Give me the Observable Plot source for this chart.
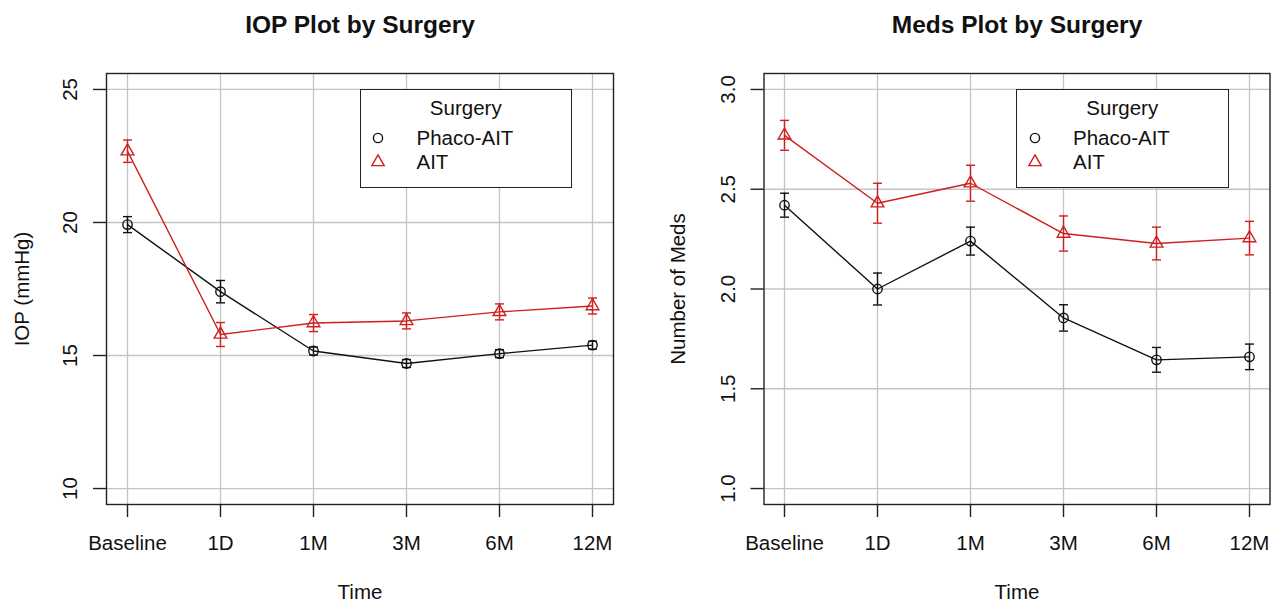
<!DOCTYPE html>
<html><head><meta charset="utf-8">
<script src="https://cdn.jsdelivr.net/npm/d3@7"></script>
<script src="https://cdn.jsdelivr.net/npm/@observablehq/plot@0.6"></script>
<style>
html,body{margin:0;padding:0;background:#fff;overflow:hidden;width:1272px;height:602px}
#root{position:relative;width:1272px;height:602px;font-family:"Liberation Sans",Arial,sans-serif;color:#111}
.panel{position:absolute;top:0}
.legend{position:absolute;border:1.3px solid #222;box-sizing:border-box;background:#fff;font-size:20.5px;line-height:24px}
.legend .lt{position:absolute;left:0;right:0;text-align:center}
.legend .li{position:absolute;white-space:nowrap}
.legend svg{position:absolute;overflow:visible}
</style>
</head><body><div id="root"></div>
<script>
// ---- data ----
const times = ["Baseline", "1D", "1M", "3M", "6M", "12M"];
const seriesNames = ["Phaco-AIT", "AIT"];

const iopPhaco   = [19.92, 17.4, 15.17, 14.7, 15.07, 15.39];
const iopPhacoSE = [0.3, 0.42, 0.15, 0.15, 0.15, 0.15];
const iopAit     = [22.68, 15.79, 16.22, 16.3, 16.64, 16.86];
const iopAitSE   = [0.42, 0.45, 0.32, 0.3, 0.3, 0.3];

const medsPhaco   = [2.42, 2.00, 2.24, 1.855, 1.645, 1.66];
const medsPhacoSE = [0.06, 0.08, 0.07, 0.066, 0.062, 0.064];
const medsAit     = [2.77, 2.43, 2.53, 2.278, 2.228, 2.255];
const medsAitSE   = [0.075, 0.1, 0.09, 0.088, 0.082, 0.084];

const iopTicks = [10, 15, 20, 25];
const medsTicks = [1.0, 1.5, 2.0, 2.5, 3.0];

// ---- styles ----
const colors = ["#111111", "#cf1f1f"];
const symbols = ["circle", "triangle"];
const font = "Liberation Sans, Arial, sans-serif";
const fs = 20.5;

const capSymbol = {draw(ctx, size) { const w = Math.sqrt(size / Math.PI); ctx.moveTo(-w, 0); ctx.lineTo(w, 0); }};

function rows(v, se) { return times.map((t, i) => ({time: t, mean: v[i], lo: v[i] - se[i], hi: v[i] + se[i]})); }

function panel({series, yTicks, yDomain, fmt, title, ylabel, marginLeft, marginRight, ylabDx}) {
  const gridStyle = {stroke: "#c4c4c4", strokeOpacity: 1, strokeWidth: 1.3};
  const marks = [
    Plot.gridX({...gridStyle}),
    Plot.gridY(yTicks, {...gridStyle}),
    Plot.frame({stroke: "#222", strokeWidth: 1.4}),
    Plot.axisX({tickSize: 13, fill: "none", stroke: "#222", strokeWidth: 1.4, label: null}),
    Plot.axisY(yTicks, {tickSize: 13, fill: "none", stroke: "#222", strokeWidth: 1.4, label: null}),
    Plot.text(times, {x: d => d, text: d => d, frameAnchor: "bottom", dy: 39, fontSize: fs, fill: "#111", lineAnchor: "middle"}),
    Plot.text(yTicks, {y: d => d, text: d => fmt(d), frameAnchor: "left", dx: -36, rotate: -90, fontSize: fs, fill: "#111", textAnchor: "middle", lineAnchor: "middle"}),
    Plot.text([title], {text: d => d, frameAnchor: "top", dy: -48, fontSize: 24.5, fontWeight: "bold", fill: "#111", lineAnchor: "middle"}),
    Plot.text(["Time"], {text: d => d, frameAnchor: "bottom", dy: 88, fontSize: fs, fill: "#111", lineAnchor: "middle"}),
    Plot.text([ylabel], {text: d => d, frameAnchor: "left", dx: ylabDx, rotate: -90, fontSize: fs, fill: "#111", textAnchor: "middle", lineAnchor: "middle"})
  ];
  series.forEach((data, k) => {
    const c = colors[k];
    marks.push(
      Plot.line(data, {x: "time", y: "mean", stroke: c, strokeWidth: 1.4}),
      Plot.ruleX(data, {x: "time", y1: "lo", y2: "hi", stroke: c, strokeWidth: 1.4}),
      Plot.dot(data, {x: "time", y: "lo", symbol: capSymbol, r: 4.5, stroke: c, fill: "none", strokeWidth: 1.4}),
      Plot.dot(data, {x: "time", y: "hi", symbol: capSymbol, r: 4.5, stroke: c, fill: "none", strokeWidth: 1.4}),
      Plot.dot(data, {x: "time", y: "mean", symbol: symbols[k], r: 4.7, stroke: c, fill: "none", strokeWidth: 1.4})
    );
  });
  return Plot.plot({
    width: 636, height: 602,
    marginLeft, marginRight, marginTop: 73, marginBottom: 98,
    style: {fontFamily: font, fontSize: fs + "px", background: "transparent", color: "#111"},
    x: {type: "point", domain: times, padding: 0.2, align: 0.5},
    y: {domain: yDomain},
    marks
  });
}

function legend(left) {
  const div = document.createElement("div");
  div.className = "legend";
  Object.assign(div.style, {left: left + "px", top: "89px", width: "212.5px", height: "98.5px"});
  const t = document.createElement("div");
  t.className = "lt"; t.style.top = "6px"; t.textContent = "Surgery";
  div.appendChild(t);
  const ys = [48, 71.5];
  seriesNames.forEach((name, k) => {
    const s = d3.create("svg").attr("width", 14).attr("height", 14)
      .style("left", (17.5 - 7) + "px").style("top", (ys[k] - 7) + "px");
    s.append("path")
      .attr("transform", "translate(7,7)")
      .attr("d", d3.symbol(k === 0 ? d3.symbolCircle : d3.symbolTriangle, Math.PI * 4.6 * 4.6)())
      .attr("fill", "none").attr("stroke", colors[k]).attr("stroke-width", 1.4);
    div.appendChild(s.node());
    const l = document.createElement("div");
    l.className = "li"; l.style.left = "56px"; l.style.top = (ys[k] - 12) + "px"; l.textContent = name;
    div.appendChild(l);
  });
  return div;
}

const root = document.getElementById("root");

const p1 = panel({
  series: [rows(iopPhaco, iopPhacoSE), rows(iopAit, iopAitSE)],
  yTicks: iopTicks, yDomain: [9.4, 25.6], fmt: d3.format("d"),
  title: "IOP Plot by Surgery", ylabel: "IOP (mmHg)",
  marginLeft: 106, marginRight: 23, ylabDx: -84
});
p1.classList.add("panel"); p1.style.left = "0px";
root.appendChild(p1);

const p2 = panel({
  series: [rows(medsPhaco, medsPhacoSE), rows(medsAit, medsAitSE)],
  yTicks: medsTicks, yDomain: [0.92, 3.08], fmt: d3.format(".1f"),
  title: "Meds Plot by Surgery", ylabel: "Number of Meds",
  marginLeft: 127.5, marginRight: 2.5, ylabDx: -85.5
});
p2.classList.add("panel"); p2.style.left = "636px";
root.appendChild(p2);

root.appendChild(legend(359.5));
root.appendChild(legend(1016));
</script>
</body></html>
